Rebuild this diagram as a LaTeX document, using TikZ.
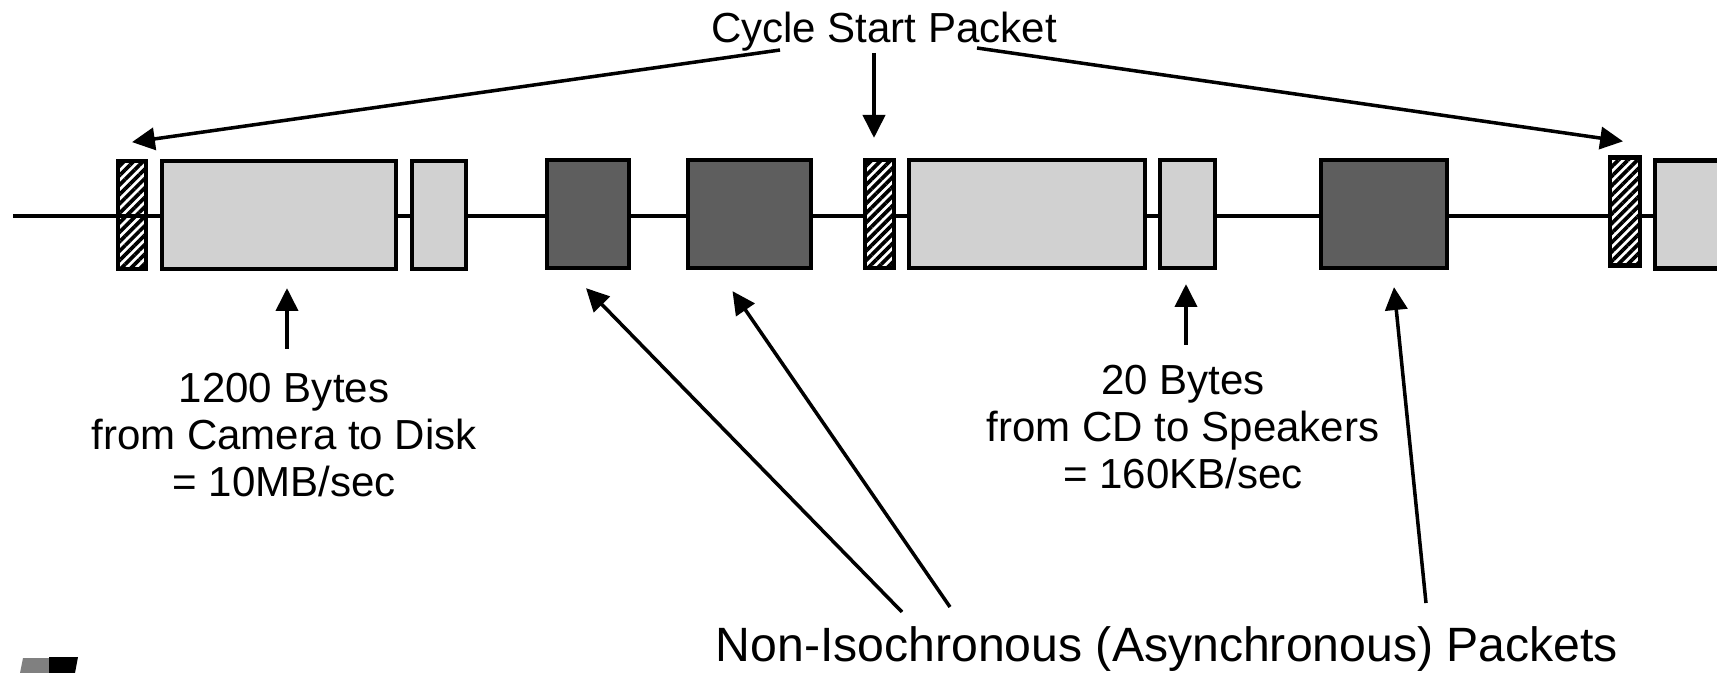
\documentclass[tikz,border=0pt]{standalone}
\usepackage{fontspec}
\setmainfont{Liberation Sans}
\usetikzlibrary{arrows.meta,calc,patterns.meta}
\begin{document}
\begin{tikzpicture}[x=0.01cm,y=-0.01cm,
  wire/.style={line width=0.9pt},
  pkt/.style={draw=black,line width=1.2pt,inner sep=0pt,minimum height=10.8mm},
  cyc/.style={pkt,pattern={Lines[angle=45,distance=1.9pt,line width=1.05pt]}},
  cycw/.style={cyc,preaction={fill=white}},
  iso/.style={pkt,fill=black!18},
  async/.style={pkt,fill=black!63},
  arr/.style={line width=1pt,-{Triangle[length=6.5pt,width=6.3pt]}},
  lbl/.style={font=\fontsize{11.95}{13.4}\selectfont,align=center,inner sep=0pt},
]
\clip (0,0) rectangle (1717,673);
\fill[white] (0,0) rectangle (1717,673);

% bus line
\coordinate (busL) at (13,216);
\coordinate (busR) at (1717,216);
\draw[wire] (busL) -- (busR);

% packets
\node[cyc,  minimum width=2.8mm]  (hat1) at (132,215) {};
\node[iso,  minimum width=23.4mm] (big1) at (279,215) {};
\node[iso,  minimum width=5.4mm]  (sm1)  at (439,215) {};
\node[async,minimum width=8.2mm]  (dk1)  at (588,214) {};
\node[async,minimum width=12.3mm] (dk2)  at (749.5,214) {};
\node[cycw, minimum width=2.9mm]  (hat2) at (879.5,214) {};
\node[iso,  minimum width=23.6mm] (big2) at (1027,214) {};
\node[iso,  minimum width=5.5mm]  (sm2)  at (1187.5,214) {};
\node[async,minimum width=12.6mm] (dk3)  at (1384,214) {};
\node[cycw, minimum width=3.0mm]  (hat3) at (1625,211.5) {};
\node[iso,  minimum width=23.6mm] (big3) at (1773,214.5) {};

% labels
\node[lbl,anchor=base] (csp) at (884,43) {Cycle Start Packet};
\node[lbl,anchor=north] (lbl1) at (284,372) {1200 Bytes\\from Camera to Disk\\= 10MB/sec};
\node[lbl,anchor=north] (lbl2) at (1183,364) {20 Bytes\\from CD to Speakers\\= 160KB/sec};
\node[font=\fontsize{13.7}{16}\selectfont,inner sep=0pt,anchor=base] (async) at (1167,662)
  {Non-Isochronous (Asynchronous) Packets};

% arrow tails
\coordinate (cspL) at (780,50);
\coordinate (cspM) at (874,53);
\coordinate (cspR) at (977,48);
\coordinate (t1) at (287,349);
\coordinate (t2) at (1186,345);
\coordinate (aA) at (902,612);
\coordinate (aB) at (950,607);
\coordinate (aC) at (1426,603);

\draw[arr] (cspL) -- ($(hat1.north)+(0,-17)$);
\draw[arr] (cspM) -- ($(hat2.north)+(-5.5,-20)$);
\draw[arr] (cspR) -- ($(hat3.north)+(-2,-14)$);
\draw[arr] (t1) -- ($(big1.south)+(8,17)$);
\draw[arr] (t2) -- ($(sm2.south)+(-1.5,14)$);
\draw[arr] (aA) -- ($(dk1.south)+(-2,18)$);
\draw[arr] (aB) -- ($(dk2.south)+(-17,21)$);
\draw[arr] (aC) -- ($(dk3.south)+(10,17)$);

% logo fragment
\fill[black!50] (23,658) -- (49,658) -- (49,673) -- (20,673) -- cycle;
\fill[black] (49,657) -- (78,657) -- (75,673) -- (49,673) -- cycle;
\end{tikzpicture}
\end{document}
